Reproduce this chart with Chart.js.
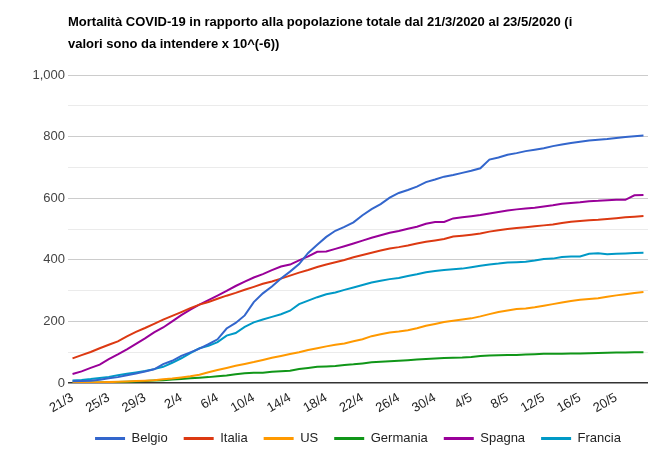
<!DOCTYPE html>
<html>
<head>
<meta charset="utf-8">
<script src="https://cdn.jsdelivr.net/npm/chart.js@4/dist/chart.umd.min.js"></script>
<style>
  body { margin: 0; background: #fff; }
  canvas { display: block; }
</style>
</head>
<body>
<canvas id="covidChart" width="659" height="465"></canvas>
<script>
// dates from 21/3/2020 to 23/5/2020
const dates = [
  '21/3', '22/3', '23/3', '24/3', '25/3', '26/3', '27/3', '28/3', '29/3', '30/3', '31/3',
  '1/4', '2/4', '3/4', '4/4', '5/4', '6/4', '7/4', '8/4', '9/4', '10/4',
  '11/4', '12/4', '13/4', '14/4', '15/4', '16/4', '17/4', '18/4', '19/4', '20/4',
  '21/4', '22/4', '23/4', '24/4', '25/4', '26/4', '27/4', '28/4', '29/4', '30/4',
  '1/5', '2/5', '3/5', '4/5', '5/5', '6/5', '7/5', '8/5', '9/5', '10/5',
  '11/5', '12/5', '13/5', '14/5', '15/5', '16/5', '17/5', '18/5', '19/5', '20/5',
  '21/5', '22/5', '23/5'
];

// deaths per million inhabitants
const belgio = [
  5.8, 6.5, 7.7, 10.6, 15.5, 19.1, 25.2, 30.7, 37.5, 44.6,
  61.4, 72.1, 88.0, 99.5, 111.7, 125.9, 142.0, 177.1, 195.0, 219.6,
  262.7, 291.2, 313.3, 339.7, 361.8, 386.4, 422.7, 449.3, 474.6, 494.6,
  507.2, 522.0, 545.0, 564.8, 581.3, 602.0, 617.4, 627.2, 638.0, 652.8,
  660.9, 670.4, 675.8, 682.7, 689.6, 697.6, 725.8, 732.4, 741.6, 746.8,
  753.3, 757.8, 762.5, 769.6, 774.8, 779.7, 783.7, 787.8, 790.3, 792.7,
  796.3, 799.5, 801.7, 803.9
];
const italia = [
  79.9, 90.7, 100.7, 113.0, 124.3, 135.3, 151.3, 166.1, 178.6, 192.0,
  205.9, 217.9, 230.5, 243.2, 254.5, 263.2, 273.7, 283.7, 292.7, 302.8,
  312.3, 322.5, 329.7, 339.1, 349.0, 358.6, 367.3, 376.8, 384.8, 392.0,
  399.5, 408.3, 415.6, 423.3, 430.2, 437.1, 441.4, 446.9, 453.3, 458.6,
  463.3, 467.8, 475.6, 478.5, 481.8, 485.7, 491.8, 496.3, 500.3, 503.6,
  506.3, 509.3, 512.1, 515.3, 519.7, 523.7, 526.2, 528.6, 530.3, 533.0,
  535.6, 538.2, 540.4, 542.3
];
const us = [
  0.9, 1.3, 1.7, 2.2, 2.9, 3.7, 4.8, 6.2, 7.5, 9.1,
  11.8, 14.5, 18.1, 21.6, 27.0, 35.0, 42.0, 49.0, 56.0, 62.0,
  68.0, 75.0, 82.0, 88.0, 94.0, 100.0, 107.0, 113.0, 119.0, 124.0,
  128.3, 135.4, 142.1, 152.2, 158.3, 163.8, 167.2, 171.3, 177.8, 185.8,
  191.9, 197.9, 202.2, 206.2, 210.0, 216.5, 223.8, 230.5, 235.2, 240.1,
  242.3, 245.8, 250.9, 256.3, 261.7, 266.7, 270.4, 272.9, 275.3, 280.1,
  284.7, 288.6, 292.4, 295.8
];
const germania = [
  1.0, 1.1, 1.5, 1.9, 2.5, 3.2, 4.1, 5.2, 6.4, 7.8,
  9.3, 11.1, 13.3, 15.4, 17.4, 19.1, 21.8, 24.3, 28.3, 31.4,
  33.3, 33.3, 36.4, 38.5, 39.7, 45.8, 48.8, 52.4, 53.7, 55.3,
  58.6, 60.6, 63.6, 67.2, 69.4, 70.8, 72.0, 73.8, 76.1, 77.9,
  79.8, 81.2, 82.1, 82.7, 84.3, 87.7, 89.1, 90.5, 91.0, 91.2,
  92.3, 93.2, 94.7, 95.0, 95.1, 95.6, 95.9, 96.4, 97.4, 98.1,
  98.8, 99.1, 99.5, 99.8
];
const spagna = [
  29.4, 37.8, 49.2, 59.8, 77.7, 93.0, 109.5, 127.4, 144.9, 164.4,
  180.3, 200.0, 220.5, 238.6, 254.5, 269.3, 284.2, 299.2, 315.1, 329.1,
  342.6, 353.8, 366.6, 378.3, 384.7, 398.6, 411.5, 426.1, 427.0, 435.7,
  444.2, 453.4, 462.7, 472.0, 479.8, 487.9, 494.0, 501.1, 507.5, 517.2,
  522.9, 522.9, 534.7, 538.2, 541.7, 545.7, 550.9, 555.4, 560.3, 564.1,
  567.1, 569.7, 573.5, 577.4, 582.0, 585.0, 587.2, 590.3, 591.8, 594.1,
  595.2, 595.2, 609.9, 610.9
];
const francia = [
  8.4, 10.1, 12.8, 16.4, 19.9, 25.3, 29.8, 34.5, 38.9, 45.1,
  52.6, 65.7, 80.4, 97.1, 112.8, 120.6, 133.0, 154.1, 162.2, 182.2,
  197.0, 206.4, 214.8, 223.4, 234.8, 256.2, 267.5, 278.8, 288.4, 294.3,
  302.5, 310.4, 318.5, 326.2, 332.0, 337.5, 341.1, 347.7, 353.1, 359.5,
  363.8, 367.1, 369.6, 371.6, 376.1, 381.1, 385.2, 387.9, 391.5, 392.7,
  393.7, 397.7, 402.9, 404.1, 409.3, 410.9, 410.9, 419.6, 421.5, 418.2,
  419.9, 421.1, 422.2, 422.9
];

const seriesNames = ['Belgio', 'Italia', 'US', 'Germania', 'Spagna', 'Francia'];
const seriesData = [belgio, italia, us, germania, spagna, francia];
const seriesColors = ['#3366cc', '#dc3912', '#ff9900', '#109618', '#990099', '#0099c6'];

const titleLines = [
  'Mortalità COVID-19 in rapporto alla popolazione totale dal 21/3/2020 al 23/5/2020 (i',
  'valori sono da intendere x 10^(-6))'
];

Chart.defaults.font.family = '"Liberation Sans", Arial, sans-serif';
Chart.defaults.font.size = 13;

const defaultLabels = Chart.defaults.plugins.legend.labels.generateLabels;

new Chart(document.getElementById('covidChart').getContext('2d'), {
    type: 'line',
    data: {
        labels: dates,
        datasets: seriesNames.map((name, i) => ({
            label: name,
            data: seriesData[i],
            borderColor: seriesColors[i],
            backgroundColor: seriesColors[i],
            borderWidth: 2,
            pointRadius: 0,
            tension: 0,
            fill: false
        }))
    },
    options: {
        responsive: false,
        animation: false,
        layout: {
            padding: { left: 0, right: 11, top: 0, bottom: 10 }
        },
        scales: {
            x: {
                offset: true,
                // labels hang below the axis box, like the original
                afterFit: function (scale) { scale.height = 33; },
                grid: { display: false, drawTicks: false },
                border: { display: false },
                ticks: {
                    autoSkip: false,
                    minRotation: 30,
                    maxRotation: 30,
                    color: '#222',
                    padding: 7,
                    callback: function (value, index) {
                        return index % 4 === 0 ? dates[index] : '';
                    }
                }
            },
            y: {
                min: 0,
                max: 1000,
                afterFit: function (scale) { scale.width = 68; },
                border: { display: false },
                grid: {
                    drawTicks: false,
                    color: ctx => ctx.tick.value === 0 ? '#333' : (ctx.tick.value % 200 === 0 ? '#cccccc' : '#ebebeb'),
                    lineWidth: ctx => ctx.tick.value === 0 ? 1.5 : 1
                },
                ticks: {
                    stepSize: 100,
                    color: '#444',
                    padding: 3,
                    callback: v => v % 200 === 0 ? v.toLocaleString('en-US') : ''
                }
            }
        },
        plugins: {
            title: {
                display: true,
                text: titleLines,
                align: 'start',
                fullSize: false,
                color: '#000',
                font: { size: 13, weight: 'bold', lineHeight: 1.7 },
                padding: { top: 11, bottom: 20 }
            },
            legend: {
                position: 'bottom',
                fullSize: false,
                labels: {
                    boxWidth: 30,
                    boxHeight: 3,
                    padding: 16,
                    color: '#222',
                    font: { size: 13 },
                    generateLabels: chart => defaultLabels(chart).map(item => ({
                        ...item,
                        lineWidth: 0,
                        fillStyle: item.strokeStyle
                    }))
                }
            },
            tooltip: { enabled: false }
        }
    }
});
</script>
</body>
</html>
